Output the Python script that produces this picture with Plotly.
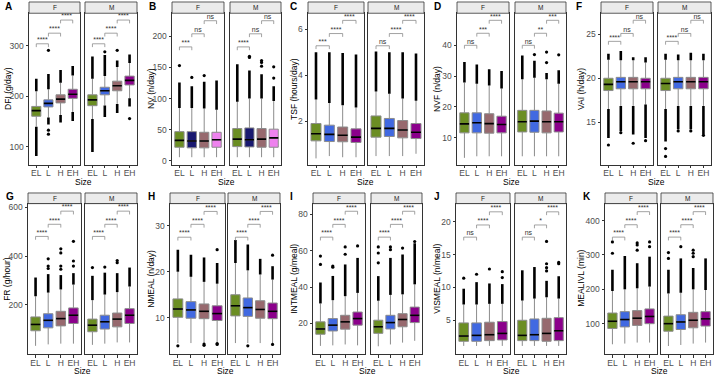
import plotly.graph_objects as go

W, H = 714, 375
sizes = ["EL", "L", "H", "EH"]
sexes = ["F", "M"]
panel_ids = ["A", "B", "C", "D", "F", "G", "H", "I", "J", "K"]
y_titles = ["DFI (g/day)", "NV (n/day)", "TSF (hours/day)", "NVF (n/day)", "VAI (h/day)",
            "FR (g/hour)", "NMEAL (n/day)", "INTMEAL (g/meal)", "VISMEAL (n/meal)", "MEALIVL (min)"]
y_tickvals = [[100, 200, 300], [0, 50, 100, 150, 200], [2, 4, 6], [10, 20, 30, 40], [15, 20, 25],
              [200, 400, 600], [10, 20, 30], [20, 40, 60, 80], [5, 10, 15, 20], [100, 200, 300, 400]]

# ---------------- data (rows: F, M ; columns: EL, L, H, EH) ----------------
A_q1 = [[160.6, 179, 187, 196], [181.5, 203, 211, 222.5]]
A_med = [[171.7, 186, 194.5, 204], [193, 211, 221, 231.6]]
A_q3 = [[180, 193, 203, 214], [203, 218, 230, 240]]
A_wlo = [[140, 158, 163, 169], [155, 182, 185, 196]]
A_whi = [[210, 214, 227, 241], [235, 240, 258, 266]]
A_dhi = [[235, 244, 252, 260], [279, 282, 271, 283]]
A_dlo = [[82, 144, 148, 151], [90, 159, 167, 180]]
A_pts = [[[], [291, 133, 125], [], []], [[], [288], [291], [156]]]
A_brk = [304, 325, 351]
A_sig = [["****", "****", "****"], ["****", "****", "****"]]

B_q1 = [[22, 21, 21, 22], [23, 22.5, 22, 22]]
B_med = [[33, 32, 32, 34], [35, 34, 35, 37]]
B_q3 = [[47, 47, 46, 46], [52, 53, 52, 51]]
B_wlo = [[6, 6, 6, 6], [6, 6, 6, 6]]
B_whi = [[85, 85, 84, 82], [95, 100, 100, 96]]
B_dhi = [[126, 120, 127, 129], [155, 145, 139, 120]]
B_dlo = [[None] * 4, [None] * 4]
B_pts = [[[153], [134], [137], []], [[], [168, 166], [161, 158, 152], [151, 133]]]
B_brk = [183, 204, 225]
B_sig = [["***", "ns", "ns"], ["****", "ns", "ns"]]

C_q1 = [[1.16, 1.13, 1.12, 1.09], [1.32, 1.35, 1.29, 1.26]]
C_med = [[1.47, 1.44, 1.40, 1.32], [1.70, 1.70, 1.63, 1.53]]
C_q3 = [[1.91, 1.84, 1.76, 1.68], [2.24, 2.13, 2.04, 1.91]]
C_wlo = [[0.4, 0.5, 0.45, 0.45], [0.5, 0.5, 0.5, 0.6]]
C_whi = [[2.95, 2.8, 2.7, 2.6], [3.3, 3.2, 3.0, 2.9]]
C_dhi = [[5.0, 5.0, 4.97, 4.9], [5.03, 5.0, 5.0, 4.95]]
C_dlo = [[None] * 4, [None] * 4]
C_pts = [[[], [], [], []], [[], [], [], []]]
C_brk = [5.28, 5.81, 6.38]
C_sig = [["***", "****", "****"], ["ns", "****", "****"]]

D_q1 = [[11.6, 11.6, 11.5, 11.6], [11.9, 11.8, 11.6, 11.9]]
D_med = [[14.5, 14.9, 14.6, 14.3], [15.2, 15.4, 15.2, 15.2]]
D_q3 = [[18.1, 18.1, 17.8, 17.0], [18.9, 18.9, 18.7, 18.0]]
D_wlo = [[3.5, 4.0, 4.0, 4.0], [4.0, 4.0, 4.0, 4.0]]
D_whi = [[27.9, 27.5, 27.0, 26.0], [29.0, 29.5, 29.0, 27.5]]
D_dhi = [[34.6, 33.8, 32.2, 31.7], [36.7, 35.0, 31.0, 31.9]]
D_dlo = [[None] * 4, [None] * 4]
D_pts = [[[], [], [], []], [[], [37.0], [34.4, 37.8], [36.9]]]
D_brk = [40, 43.9, 48.1]
D_sig = [["ns", "***", "****"], ["ns", "**", "***"]]

F_q1 = [[18.6, 18.8, 18.8, 18.8], [18.6, 18.8, 18.8, 18.8]]
F_med = [[19.3, 19.6, 19.6, 19.6], [19.4, 19.6, 19.6, 19.6]]
F_q3 = [[20.0, 20.1, 20.1, 20.0], [20.0, 20.1, 20.1, 20.1]]
F_wlo = [[16.5, 16.85, 16.85, 17.0], [16.5, 16.85, 16.85, 16.85]]
F_whi = [[22.1, 22.05, 22.05, 21.8], [22.1, 22.05, 22.05, 22.05]]
F_dhi = [[22.8, 23.1, 22.4, 22.4], [22.8, 22.7, 22.9, 22.8]]
F_dlo = [[13.2, 14.0, 13.6, 13.2], [12.8, 14.2, 14.2, 13.6]]
F_pts = [[[12.4], [13.8], [12.6], [12.9]], [[12.0, 11.1], [14.0], [14.0], [13.5]]]
F_brk = [24.2, 25.1, 26.6]
F_sig = [["****", "ns", "ns"], ["****", "ns", "ns"]]

G_q1 = [[93, 105, 113, 123], [89, 100, 109, 123]]
G_med = [[119, 136, 143, 157], [116, 130, 141, 157]]
G_q3 = [[150, 163, 173, 187], [141, 157, 166, 184]]
G_wlo = [[31, 37, 40, 40], [35, 40, 45, 45]]
G_whi = [[235, 250, 263, 283], [219, 242, 252, 275]]
G_dhi = [[312, 326, 322, 330], [319, 332, 330, 353]]
G_dlo = [[None] * 4, [None] * 4]
G_pts = [[[], [389, 359, 349], [430, 413, 359, 346], [461, 380, 359]], [[353], [355], [382, 373], []]]
G_brk = [481, 531, 585]
G_sig = [["****", "****", "****"], ["****", "****", "****"]]

H_q1 = [[10.1, 9.9, 9.8, 9.4], [10.4, 10.3, 9.9, 9.8]]
H_med = [[11.9, 11.7, 11.4, 10.9], [12.6, 12.2, 11.8, 11.4]]
H_q3 = [[14.1, 13.5, 13.0, 12.6], [15.0, 14.3, 13.7, 13.2]]
H_wlo = [[4.5, 4.5, 4.5, 4.5], [4.5, 4.5, 4.5, 4.5]]
H_whi = [[20.0, 18.9, 17.8, 17.4], [21.9, 20.3, 19.4, 18.3]]
H_dhi = [[24.8, 23.7, 23.1, 21.9], [26.9, 25.9, 22.8, 21.2]]
H_dlo = [[None] * 4, [None] * 4]
H_pts = [[[3.9], [], [4.0, 4.3], [24.8, 4.2, 4.4]], [[], [3.9], [], [23.6, 4.2]]]
H_brk = [27.5, 30.3, 33.1]
H_sig = [["****", "****", "****"], ["****", "****", "****"]]

I_q1 = [[14.1, 15.9, 16.9, 19.1], [14.6, 17.0, 18.2, 20.5]]
I_med = [[17.0, 19.1, 20.9, 22.7], [18.2, 20.5, 22.2, 24.5]]
I_q3 = [[20.9, 22.7, 24.5, 26.3], [21.8, 24.5, 25.4, 29.0]]
I_wlo = [[7.7, 8.0, 8.5, 8.0], [7.5, 8.5, 9.5, 10.5]]
I_whi = [[31.0, 32.8, 35.0, 36.8], [32.5, 35.7, 36.0, 41.5]]
I_dhi = [[42.5, 46.1, 52.4, 56.0], [46.0, 56.0, 57.8, 64.0]]
I_dlo = [[None] * 4, [None] * 4]
I_pts = [[[52.4, 57.0], [50.9, 51.5], [58.0, 62.0], [62.6]], [[53.3, 58.7, 62.0], [60.5, 62.0], [61.4], [65.0]]]
I_brk = [67.4, 74.4, 81.6]
I_sig = [["****", "****", "****"], ["****", "****", "****"]]

J_q1 = [[1.8, 1.8, 1.9, 2.0], [1.9, 1.9, 1.8, 1.9]]
J_med = [[2.6, 2.7, 2.8, 3.0], [2.7, 2.8, 3.0, 3.4]]
J_q3 = [[4.6, 4.6, 4.7, 4.8], [5.0, 5.2, 5.3, 5.4]]
J_wlo = [[1.1, 1.1, 1.1, 1.1], [1.1, 1.1, 1.1, 1.1]]
J_whi = [[7.4, 7.4, 7.5, 7.5], [8.0, 8.3, 8.5, 8.3]]
J_dhi = [[9.8, 10.8, 10.6, 10.5], [12.6, 13.1, 11.0, 11.7]]
J_dlo = [[None] * 4, [None] * 4]
J_pts = [[[11.4], [12.0], [12.8], [11.5, 12.4]], [[], [], [12.5, 13.0, 13.6, 17.0], [13.6, 13.8]]]
J_brk = [17.65, 19.5, 21.5]
J_sig = [["ns", "****", "****"], ["ns", "*", "****"]]

K_q1 = [[86, 90.5, 95, 100], [78, 83, 88, 93]]
K_med = [[107, 112, 116, 121], [100, 105, 110, 114]]
K_q3 = [[131, 135, 138, 143], [122, 126, 133, 135]]
K_wlo = [[40, 42, 45, 45], [35, 38, 42, 45]]
K_whi = [[195, 200, 203, 208], [188, 190, 200, 198]]
K_dhi = [[257, 297, 276, 295], [257, 290, 262, 290]]
K_dlo = [[None] * 4, [None] * 4]
K_pts = [[[305, 338], [], [314, 329, 335], [338, 324]], [[290, 307], [324], [295, 305, 314], []]]
K_brk = [352, 388, 426]
K_sig = [["****", "****", "****"], ["****", "****", "****"]]

data = {
    "A": (A_q1, A_med, A_q3, A_wlo, A_whi, A_dhi, A_dlo, A_pts, A_brk, A_sig),
    "B": (B_q1, B_med, B_q3, B_wlo, B_whi, B_dhi, B_dlo, B_pts, B_brk, B_sig),
    "C": (C_q1, C_med, C_q3, C_wlo, C_whi, C_dhi, C_dlo, C_pts, C_brk, C_sig),
    "D": (D_q1, D_med, D_q3, D_wlo, D_whi, D_dhi, D_dlo, D_pts, D_brk, D_sig),
    "F": (F_q1, F_med, F_q3, F_wlo, F_whi, F_dhi, F_dlo, F_pts, F_brk, F_sig),
    "G": (G_q1, G_med, G_q3, G_wlo, G_whi, G_dhi, G_dlo, G_pts, G_brk, G_sig),
    "H": (H_q1, H_med, H_q3, H_wlo, H_whi, H_dhi, H_dlo, H_pts, H_brk, H_sig),
    "I": (I_q1, I_med, I_q3, I_wlo, I_whi, I_dhi, I_dlo, I_pts, I_brk, I_sig),
    "J": (J_q1, J_med, J_q3, J_wlo, J_whi, J_dhi, J_dlo, J_pts, J_brk, J_sig),
    "K": (K_q1, K_med, K_q3, K_wlo, K_whi, K_dhi, K_dlo, K_pts, K_brk, K_sig),
}

# ---------------- styling / layout ----------------
pal_default = ["#6B8E23", "#4169E1", "#97696E", "#8B008B"]
pal_B = ["#6B8E23", "#191970", "#97696E", "#EE82EE"]
FONT = "Liberation Sans, Arial, sans-serif"

y_ranges = {"A": (64.8, 364.5), "B": (-5.9, 237), "C": (0.13, 6.69), "D": (1.3, 50.4),
            "F": (10.17, 27.4), "G": (-3, 616), "H": (2.1, 34.8), "I": (3.2, 85.8),
            "J": (-0.15, 22.75), "K": (11.4, 449.5)}
px_x = {"A": ((29, 80), (85, 137)), "B": ((172, 224), (230, 281)), "C": ((308, 364), (368, 424)),
        "D": ((457, 509), (515, 566)), "F": ((601, 653), (658, 711)),
        "G": ((28, 81), (85, 137)), "H": ((170, 225), (228, 280)), "I": ((313, 365), (371, 422)),
        "J": ((456, 510), (515, 566)), "K": ((605, 657), (661, 713))}
rows = {"top": dict(strip=(1, 12.3), plot=(12.3, 164.5), tag_y=6, size_y=182),
        "bot": dict(strip=(193, 203.7), plot=(203.7, 355), tag_y=197, size_y=372)}
tag_x = {"A": 3, "B": 147, "C": 288, "D": 432, "F": 574, "G": 4, "H": 146, "I": 288, "J": 432, "K": 581}
ytitle_x = {"A": 8, "B": 151, "C": 294, "D": 437, "F": 581, "G": 7, "H": 151, "I": 294, "J": 437, "K": 581}


def fx(px):
    return px / W


def fy(py):
    return 1 - py / H


fig = go.Figure()
layout = dict(width=W, height=H, margin=dict(l=0, r=0, t=0, b=0), paper_bgcolor="white",
              plot_bgcolor="white", showlegend=False, boxmode="overlay", font=dict(family=FONT))
shapes, annotations = [], []

for p_idx, pid in enumerate(panel_ids):
    q1, med, q3, wlo, whi, dhi, dlo, pts, brk, sig = data[pid]
    pal = pal_B if pid == "B" else pal_default
    row = rows["top"] if p_idx < 5 else rows["bot"]
    ylo, yhi = y_ranges[pid]
    span = yhi - ylo
    for f in range(2):
        k = p_idx * 2 + f + 1
        xa, ya = ("x%d" % k, "y%d" % k)
        x0, x1 = px_x[pid][f]
        layout["xaxis%d" % k] = dict(
            domain=[fx(x0), fx(x1)], range=[-0.6, 3.6], anchor=ya, tickvals=[0, 1, 2, 3],
            ticktext=sizes, ticks="outside", ticklen=2.5, tickcolor="#333333", tickwidth=0.8,
            showline=True, mirror=True, linecolor="#333333", linewidth=1, showgrid=False,
            zeroline=False, tickfont=dict(size=8.5, color="#4D4D4D", family=FONT), fixedrange=True,
            ticklabelstandoff=-2)
        yax = dict(domain=[fy(row["plot"][1]), fy(row["plot"][0])], range=[ylo, yhi], anchor=xa,
                   showline=True, mirror=True, linecolor="#333333", linewidth=1, showgrid=False,
                   zeroline=False, fixedrange=True)
        if f == 0:
            yax.update(tickvals=y_tickvals[p_idx], ticks="outside", ticklen=2.5, tickcolor="#333333",
                       tickwidth=0.8, tickfont=dict(size=8.5, color="#4D4D4D", family=FONT))
        else:
            yax.update(showticklabels=False, ticks="")
        layout["yaxis%d" % k] = yax

        # boxes
        for i in range(4):
            fig.add_trace(go.Box(
                x=[i], q1=[q1[f][i]], median=[med[f][i]], q3=[q3[f][i]],
                lowerfence=[wlo[f][i]], upperfence=[whi[f][i]], width=0.75, whiskerwidth=0,
                fillcolor=pal[i], line=dict(color="#8C8C8C", width=1), boxpoints=False,
                xaxis=xa, yaxis=ya, hoverinfo="skip", showlegend=False))
        # dense outlier bands
        bx, by = [], []
        for i in range(4):
            if dhi[f][i] is not None:
                bx += [i, i, None]
                by += [whi[f][i], dhi[f][i], None]
            if dlo[f][i] is not None:
                bx += [i, i, None]
                by += [dlo[f][i], wlo[f][i], None]
        fig.add_trace(go.Scatter(x=bx, y=by, mode="lines", line=dict(color="black", width=2.6),
                                 xaxis=xa, yaxis=ya, hoverinfo="skip", showlegend=False))
        # isolated outliers
        ox, oy = [], []
        for i in range(4):
            for v in pts[f][i]:
                ox.append(i)
                oy.append(v)
        fig.add_trace(go.Scatter(x=ox, y=oy, mode="markers", marker=dict(color="black", size=3.2),
                                 xaxis=xa, yaxis=ya, hoverinfo="skip", showlegend=False))
        # medians
        mx, my = [], []
        for i in range(4):
            mx += [i - 0.375, i + 0.375, None]
            my += [med[f][i], med[f][i], None]
        fig.add_trace(go.Scatter(x=mx, y=my, mode="lines", line=dict(color="black", width=1.6),
                                 xaxis=xa, yaxis=ya, hoverinfo="skip", showlegend=False))
        # significance brackets
        tip = 0.022 * span
        sx, sy = [], []
        for j in range(3):
            sx += [j, j, j + 1, j + 1, None]
            sy += [brk[j] - tip, brk[j], brk[j], brk[j] - tip, None]
        fig.add_trace(go.Scatter(x=sx, y=sy, mode="lines", line=dict(color="#8C8C8C", width=0.8),
                                 xaxis=xa, yaxis=ya, hoverinfo="skip", showlegend=False))
        fig.add_trace(go.Scatter(x=[j + 0.5 for j in range(3)], y=brk, mode="text", text=sig[f],
                                 textposition="top center",
                                 textfont=dict(size=7, color="#333333", family=FONT),
                                 xaxis=xa, yaxis=ya, hoverinfo="skip", showlegend=False))
        # facet strip
        s0, s1 = row["strip"]
        shapes.append(dict(type="rect", xref="paper", yref="paper", x0=fx(x0), x1=fx(x1),
                           y0=fy(s1), y1=fy(s0), fillcolor="#EBEBEB",
                           line=dict(color="#333333", width=0.8), layer="above"))
        annotations.append(dict(xref="paper", yref="paper", x=fx((x0 + x1) / 2), y=fy((s0 + s1) / 2),
                                text=sexes[f], showarrow=False, xanchor="center", yanchor="middle",
                                font=dict(size=6.5, color="#1A1A1A", family=FONT)))
    # panel tag
    annotations.append(dict(xref="paper", yref="paper", x=fx(tag_x[pid]), y=fy(row["tag_y"]),
                            text="<b>%s</b>" % pid, showarrow=False, xanchor="left", yanchor="middle",
                            font=dict(size=10, color="black", family=FONT)))
    # y title
    pr0, pr1 = row["plot"]
    annotations.append(dict(xref="paper", yref="paper", x=fx(ytitle_x[pid]), y=fy((pr0 + pr1) / 2),
                            text=y_titles[p_idx], showarrow=False, textangle=-90,
                            xanchor="center", yanchor="middle",
                            font=dict(size=8.5, color="black", family=FONT)))
    # x title
    (fa, _), (_, mb) = px_x[pid]
    annotations.append(dict(xref="paper", yref="paper", x=fx((fa + mb) / 2), y=fy(row["size_y"]),
                            text="Size", showarrow=False, xanchor="center", yanchor="middle",
                            font=dict(size=8.5, color="black", family=FONT)))

layout["shapes"] = shapes
layout["annotations"] = annotations
fig.update_layout(**layout)
fig.write_html("out.html", config={"displayModeBar": False},
               post_script="document.body.style.margin='0';document.body.style.overflow='hidden';")
